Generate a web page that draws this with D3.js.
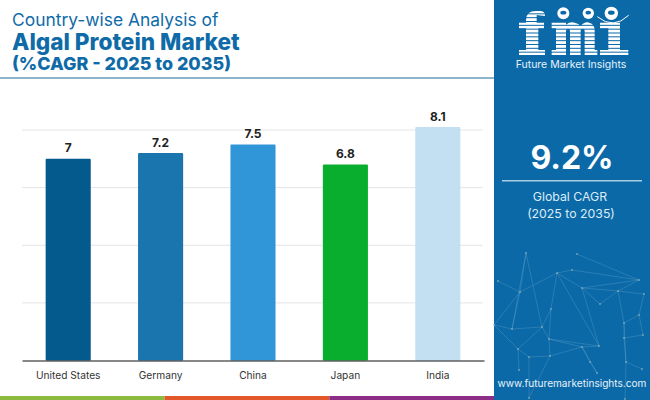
<!doctype html>
<html>
  <head>
    <meta charset="utf-8">
    <title>Algal Protein Market</title>
    <style>
      html, body { margin: 0; padding: 0; background: #fff; }
      svg { display: block; }
      text { font-family: "Inter", "Noto Sans", sans-serif; }
    </style>
  </head>
  <body>
    <script src="https://d3js.org/d3.v7.min.js"></script>
    <script>
    var countries = ["United States", "Germany", "China", "Japan", "India"];
    var cagr = [7, 7.2, 7.5, 6.8, 8.1];
    var barColors = ["#045a8d", "#1a75ae", "#3096d8", "#0aae2e", "#c3e0f2"];
    var yTicks = [0, 2, 4, 6, 8];
    var stripColors = ["#8cbb3f", "#e2582a", "#8c2d86"];
    var titleLines = ["Country-wise Analysis of", "Algal Protein Market", "(%CAGR - 2025 to 2035)"];

    // background network, zoomed off the reference panel
    var netNodes = [[526,253],[577,254],[498,281],[520,292],[557,273],[572,270],[639,280],[582,288],[618,291],[644,294],[600,304],[551,309],[639,315],[624,323],[512,329],[542,327],[643,335],[624,338],[549,339],[599,346],[582,347],[518,349],[529,357],[550,356],[590,362],[626,362],[519,370],[642,369],[597,373],[529,398],[625,399],[494,325]];
    var netEdges = [[0,3],[0,15],[0,14],[2,3],[3,4],[4,5],[5,6],[1,6],[4,7],[7,6],[7,8],[8,6],[8,9],[8,10],[10,7],[4,11],[11,15],[4,19],[7,19],[8,13],[13,12],[12,9],[13,17],[17,16],[16,12],[13,25],[25,30],[14,31],[14,15],[15,21],[11,18],[18,19],[18,20],[20,19],[18,23],[23,20],[21,22],[22,23],[21,26],[22,29],[23,29],[20,24],[24,28],[20,28],[25,27],[17,25],[21,31],[3,31],[15,18],[3,14]];

    var width = 650, height = 400;

    var svg = d3.select("body").append("svg")
      .attr("width", width)
      .attr("height", height);

    svg.append("rect")
      .attr("width", width).attr("height", height)
      .attr("fill", "#fff");

    // title
    var titleSize = [17.4, 22.6, 17.9];
    var titleBase = [25.5, 50, 70];
    svg.selectAll(".title").data(titleLines).enter().append("text")
      .attr("class", "title")
      .attr("x", 12)
      .attr("y", function(d, i) { return titleBase[i]; })
      .attr("font-size", function(d, i) { return titleSize[i]; })
      .attr("font-weight", function(d, i) { return i ? 800 : 400; })
      .attr("fill", "#0f6ba8")
      .text(function(d) { return d; });

    svg.append("rect")
      .attr("x", 0).attr("y", 77).attr("width", 494).attr("height", 2)
      .attr("fill", "#8db4cc");

    // chart
    var x = d3.scaleBand().domain(countries).range([22, 484]).paddingInner(0.512).paddingOuter(0.256);
    var y = d3.scaleLinear().domain([0, 8]).range([360.5, 130]);

    svg.append("g").selectAll("line").data(yTicks.slice(1)).enter().append("line")
      .attr("x1", 22).attr("x2", 483)
      .attr("y1", y).attr("y2", y)
      .attr("stroke", "#e4e4e4")
      .attr("stroke-width", 1);

    svg.selectAll(".bar").data(cagr).enter().append("rect")
      .attr("class", "bar")
      .attr("x", function(d, i) { return x(countries[i]); })
      .attr("width", x.bandwidth())
      .attr("y", function(d) { return y(d); })
      .attr("height", function(d) { return y(0) - y(d); })
      .attr("rx", 1)
      .attr("fill", function(d, i) { return barColors[i]; });

    svg.selectAll(".val").data(cagr).enter().append("text")
      .attr("class", "val")
      .attr("x", function(d, i) { return x(countries[i]) + x.bandwidth() / 2; })
      .attr("y", function(d) { return y(d) - 6.5; })
      .attr("text-anchor", "middle")
      .attr("font-size", 12)
      .attr("font-weight", 700)
      .attr("fill", "#222")
      .text(function(d) { return d; });

    var xAxis = svg.append("g")
      .attr("transform", "translate(0,360.5)")
      .call(d3.axisBottom(x).tickSize(0).tickPadding(11));
    xAxis.select(".domain").attr("stroke", "#111").attr("stroke-width", 1.2);
    xAxis.selectAll("text")
      .attr("font-family", "Roboto, sans-serif")
      .attr("font-size", 10.2)
      .attr("fill", "#333");

    // bottom strip
    svg.selectAll(".strip").data(stripColors).enter().append("rect")
      .attr("class", "strip")
      .attr("x", function(d, i) { return i * 494 / 3; })
      .attr("y", 396)
      .attr("width", 494 / 3)
      .attr("height", 4)
      .attr("fill", function(d) { return d; });

    // right panel
    svg.append("rect")
      .attr("x", 494).attr("y", 0).attr("width", 156).attr("height", 400)
      .attr("fill", "#0b69a8");

    var net = svg.append("g");
    net.selectAll("line").data(netEdges).enter().append("line")
      .attr("x1", function(d) { return netNodes[d[0]][0]; })
      .attr("y1", function(d) { return netNodes[d[0]][1]; })
      .attr("x2", function(d) { return netNodes[d[1]][0]; })
      .attr("y2", function(d) { return netNodes[d[1]][1]; })
      .attr("stroke", "#8fc0d8")
      .attr("stroke-opacity", 0.4)
      .attr("stroke-width", 0.6);
    net.selectAll("circle").data(netNodes).enter().append("circle")
      .attr("cx", function(d) { return d[0]; })
      .attr("cy", function(d) { return d[1]; })
      .attr("r", 1)
      .attr("fill", "#8fb8b8")
      .attr("fill-opacity", 0.7);

    // logo, drawn in the 3x zoom units of the reference crop
    var logoShape = [
      "M48 68V60Q48 33 78 33H92Q106 35 105 48L85 46Q85 44 80 46V68H102V85H85V150H105V165H27V150H48V85H27V68Z",
      "M125 68H168V74Q180 64 194 68Q206 70 212 78Q224 64 238 68Q254 72 254 92V150H262V165H125V150H138V85H125Z",
      "M270 68H330V150H355V165H270V150H295V85H270Z"
    ];
    var logoCounters = ["M168 165V92Q168 86 174 86Q180 86 180 92V165Z", "M212 165V92Q212 86 218 86Q224 86 224 92V165Z"];
    var logo = svg.append("g").attr("transform", "translate(510,0) scale(0.3333)");
    logo.selectAll("path.shape").data(logoShape).enter().append("path")
      .attr("class", "shape")
      .attr("d", function(d) { return d; })
      .attr("fill", "#fff");
    logo.selectAll("path.counter").data(logoCounters).enter().append("path")
      .attr("class", "counter")
      .attr("d", function(d) { return d; })
      .attr("fill", "#0b69a8");
    logo.append("g").selectAll("rect").data(d3.range(12)).enter().append("rect")
      .attr("x", 20).attr("width", 340)
      .attr("y", function(d) { return 40 + d * 11.5; })
      .attr("height", 3)
      .attr("fill", "#0b69a8");
    var globes = [[160, 40, 18], [235, 40, 17], [304, 40, 20]];
    logo.selectAll("circle").data(globes).enter().append("circle")
      .attr("cx", function(d) { return d[0]; })
      .attr("cy", function(d) { return d[1]; })
      .attr("r", function(d) { return d[2]; })
      .attr("fill", "#fff");
    logo.selectAll("ellipse").data(globes).enter().append("ellipse")
      .attr("cx", function(d) { return d[0]; })
      .attr("cy", function(d) { return d[1] - 2; })
      .attr("rx", function(d) { return d[2] * 0.5; })
      .attr("ry", function(d) { return d[2] * 0.32; })
      .attr("fill", "#0b69a8");
    logo.append("path")
      .attr("d", "M262 50Q310 90 356 46")
      .attr("fill", "none").attr("stroke", "#fff").attr("stroke-width", 3);
    svg.append("text")
      .attr("x", 571).attr("y", 67.5)
      .attr("text-anchor", "middle")
      .attr("font-size", 10.5)
      .attr("fill", "#e6f2fa")
      .text("Future Market Insights");

    // global figure
    svg.append("text")
      .attr("x", 572).attr("y", 169)
      .attr("text-anchor", "middle")
      .attr("font-size", 32)
      .attr("font-weight", 700)
      .attr("fill", "#fff")
      .text("9.2%");
    svg.append("rect")
      .attr("x", 502).attr("y", 180).attr("width", 140).attr("height", 1.5)
      .attr("fill", "#a9cde4");
    svg.append("text")
      .attr("x", 570).attr("y", 201)
      .attr("text-anchor", "middle")
      .attr("font-size", 12.3)
      .attr("fill", "#dcecf6")
      .text("Global CAGR");
    svg.append("text")
      .attr("x", 571).attr("y", 218)
      .attr("text-anchor", "middle")
      .attr("font-size", 12.3)
      .attr("fill", "#dcecf6")
      .text("(2025 to 2035)");
    svg.append("text")
      .attr("x", 572).attr("y", 386.5)
      .attr("text-anchor", "middle")
      .attr("font-size", 10.1)
      .attr("fill", "#e6f2fa")
      .text("www.futuremarketinsights.com");
    </script>
  </body>
</html>
